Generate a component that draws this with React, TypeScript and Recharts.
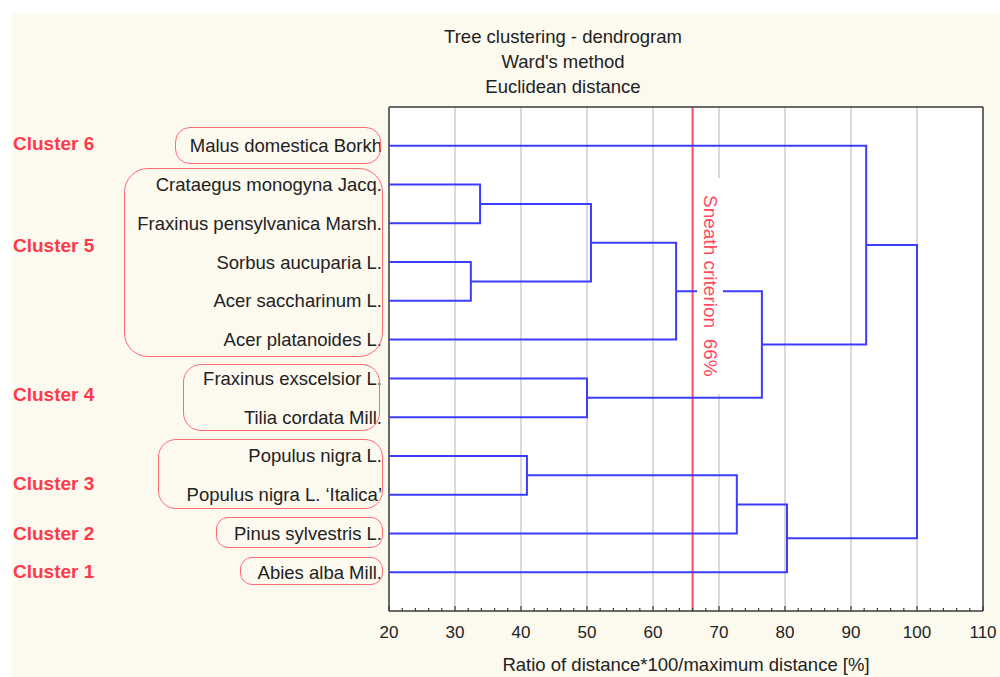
import React from 'react'
import { ScatterChart, Scatter, XAxis, YAxis, ReferenceLine, CartesianGrid } from 'recharts'

// ─── Data ────────────────────────────────────────────────────────────────────

const species = [
  'Malus domestica Borkh',
  'Crataegus monogyna Jacq.',
  'Fraxinus pensylvanica Marsh.',
  'Sorbus aucuparia L.',
  'Acer saccharinum L.',
  'Acer platanoides L.',
  'Fraxinus exscelsior L.',
  'Tilia cordata Mill.',
  'Populus nigra L.',
  'Populus nigra L. \u2018Italica\u2019',
  'Pinus sylvestris L.',
  'Abies alba Mill.',
]

// merges: leaves are 0..11, each merge gets the next id (12, 13, ...)
const mergeLeft = [1, 3, 12, 14, 6, 15, 0, 8, 19, 20, 18]
const mergeRight = [2, 4, 13, 5, 7, 16, 17, 9, 10, 11, 21]
const mergeHeight = [33.8, 32.4, 50.6, 63.5, 50.0, 76.5, 92.3, 40.9, 72.7, 80.3, 100]

const sneathValue = 66
const majorTicks = [20, 30, 40, 50, 60, 70, 80, 90, 100, 110]
const gridTicks = [30, 40, 50, 60, 70, 80, 90, 100]

const clusterLabels = ['Cluster 6', 'Cluster 5', 'Cluster 4', 'Cluster 3', 'Cluster 2', 'Cluster 1']
const clusterLabelY = [144, 246, 395, 484, 534, 572]
const clusterBoxes = [
  { left: 175, top: 127, width: 206, height: 37, r: 15 },
  { left: 124, top: 168, width: 259, height: 189, r: 24 },
  { left: 183, top: 364, width: 197, height: 67, r: 18 },
  { left: 158, top: 439, width: 225, height: 70, r: 18 },
  { left: 216, top: 517, width: 167, height: 31, r: 12 },
  { left: 240, top: 557, width: 143, height: 28, r: 12 },
]

// ─── Layout ──────────────────────────────────────────────────────────────────

const PLOT_LEFT = 389
const PLOT_RIGHT = 983
const PLOT_TOP = 107
const PLOT_BOTTOM = 611

// ─── Derived ─────────────────────────────────────────────────────────────────

const X_MIN = majorTicks[0]
const X_MAX = majorTicks[majorTicks.length - 1]
const rows = species.map((_, i) => i + 1)
const allTicks: number[] = []
for (let v = X_MIN; v <= X_MAX; v += 2) allTicks.push(v)

const nodeY: number[] = rows.slice()
const nodeH: number[] = species.map(() => X_MIN)
const links = mergeHeight.map((h, i) => {
  const a = mergeLeft[i]
  const b = mergeRight[i]
  const pts = [
    { x: nodeH[a], y: nodeY[a] },
    { x: h, y: nodeY[a] },
    { x: h, y: nodeY[b] },
    { x: nodeH[b], y: nodeY[b] },
  ]
  nodeY.push((nodeY[a] + nodeY[b]) / 2)
  nodeH.push(h)
  return pts
})

// pixel x of the Sneath line, for the label box that sits over the plot
const sneathX = PLOT_LEFT + ((sneathValue - X_MIN) / (X_MAX - X_MIN)) * (PLOT_RIGHT - PLOT_LEFT)

const FONT = '"Liberation Sans", Arial, sans-serif'
const FRAME = '#3a3a3a'
const BLUE = '#3c3cff'
const RED = '#ff4a5e'

// ─── Ticks ───────────────────────────────────────────────────────────────────

function BottomTick({ x, y, payload }: any) {
  const major = payload.value % 10 === 0
  return (
    <g>
      <line x1={x} y1={y} x2={x} y2={y - (major ? 5 : 3)} stroke={FRAME} strokeWidth={1.2} />
      {major && (
        <text x={x} y={y + 27} textAnchor="middle" fill="#222" fontSize={17} fontFamily={FONT}>
          {payload.value}
        </text>
      )}
    </g>
  )
}

function TopTick({ x, y, payload }: any) {
  const major = payload.value % 10 === 0
  return <line x1={x} y1={y} x2={x} y2={y + (major ? 5 : 3)} stroke={FRAME} strokeWidth={1.2} />
}

function RightTick({ x, y }: any) {
  return <line x1={x} y1={y} x2={x - 5} y2={y} stroke={FRAME} strokeWidth={1.2} />
}

// ─── App ─────────────────────────────────────────────────────────────────────

export default function App() {
  return (
    <div style={{ position: 'absolute', left: 0, top: 0, width: 1000, height: 677, background: '#fff', fontFamily: FONT }}>
      <div style={{ position: 'absolute', left: 12, top: 14, width: 988, height: 663, background: '#fcf9ef' }} />

      {/* Title */}
      <div style={{ position: 'absolute', left: 363, top: 24, width: 400, textAlign: 'center', fontSize: 18.5, lineHeight: '25px', color: '#222' }}>
        <div>Tree clustering - dendrogram</div>
        <div>Ward's method</div>
        <div>Euclidean distance</div>
      </div>

      <div style={{ position: 'absolute', left: 0, top: 0 }}>
        <ScatterChart
          width={1000}
          height={677}
          margin={{ top: PLOT_TOP - 5, right: 1000 - PLOT_RIGHT - 5, left: 0, bottom: 0 }}
        >
          <CartesianGrid fill="#fff" horizontal={false} vertical={false} xAxisId="b" yAxisId="l" />
          <XAxis
            xAxisId="b"
            dataKey="x"
            type="number"
            domain={[X_MIN, X_MAX]}
            ticks={allTicks}
            interval={0}
            tickSize={0}
            tickMargin={0}
            tickLine={false}
            tick={<BottomTick />}
            axisLine={{ stroke: FRAME, strokeWidth: 1.5 }}
            height={677 - PLOT_BOTTOM}
            label={{
              value: 'Ratio of distance*100/maximum distance [%]',
              position: 'insideBottom',
              offset: 6,
              fill: '#222',
              fontSize: 18.5,
              fontFamily: FONT,
            }}
          />
          <XAxis
            xAxisId="t"
            orientation="top"
            type="number"
            domain={[X_MIN, X_MAX]}
            ticks={allTicks}
            interval={0}
            tickSize={0}
            tickMargin={0}
            tickLine={false}
            tick={<TopTick />}
            axisLine={{ stroke: FRAME, strokeWidth: 1.5 }}
            height={5}
          />
          <YAxis
            yAxisId="l"
            dataKey="y"
            type="number"
            domain={[0, species.length + 1]}
            reversed
            ticks={rows}
            interval={0}
            tickFormatter={(v: number) => species[v - 1] ?? ''}
            tickSize={0}
            tickMargin={7}
            tickLine={false}
            tick={{ fill: '#222', fontSize: 18.5, fontFamily: FONT }}
            axisLine={{ stroke: FRAME, strokeWidth: 1.5 }}
            width={PLOT_LEFT}
          />
          <YAxis
            yAxisId="r"
            orientation="right"
            type="number"
            domain={[0, species.length + 1]}
            reversed
            ticks={rows}
            interval={0}
            tickSize={0}
            tickMargin={0}
            tickLine={false}
            tick={<RightTick />}
            axisLine={{ stroke: FRAME, strokeWidth: 1.5 }}
            width={5}
          />

          {gridTicks.map(v => (
            <ReferenceLine key={`g${v}`} x={v} xAxisId="b" yAxisId="l" stroke="#d6d6d6" strokeWidth={1.8} />
          ))}

          {links.map((pts, i) => (
            <Scatter
              key={`link${i}`}
              data={pts}
              xAxisId="b"
              yAxisId="l"
              line={{ stroke: BLUE, strokeWidth: 2 }}
              shape={() => <g />}
              isAnimationActive={false}
            />
          ))}

          <ReferenceLine x={sneathValue} xAxisId="b" yAxisId="l" stroke={RED} strokeWidth={2} />
        </ScatterChart>
      </div>

      {/* Sneath criterion label, white box over the plot */}
      <div
        style={{
          position: 'absolute',
          left: sneathX + 4,
          top: 178,
          width: 26,
          height: 216,
          background: '#fff',
          display: 'flex',
          alignItems: 'center',
          justifyContent: 'center',
        }}
      >
        <span
          style={{
            writingMode: 'vertical-rl',
            fontSize: 19,
            color: RED,
            whiteSpace: 'pre',
            lineHeight: '26px',
          }}
        >
          {`Sneath criterion  ${sneathValue}%`}
        </span>
      </div>

      {/* Cluster outlines */}
      {clusterBoxes.map((b, i) => (
        <div
          key={`box${i}`}
          style={{
            position: 'absolute',
            left: b.left,
            top: b.top,
            width: b.width,
            height: b.height,
            boxSizing: 'border-box',
            border: '1.5px solid #ff6a78',
            borderRadius: b.r,
            pointerEvents: 'none',
          }}
        />
      ))}

      {/* Cluster names */}
      {clusterLabels.map((c, i) => (
        <div
          key={c}
          style={{
            position: 'absolute',
            left: 13,
            top: clusterLabelY[i] - 12,
            height: 24,
            lineHeight: '24px',
            fontSize: 19,
            fontWeight: 'bold',
            color: '#ff3a4a',
          }}
        >
          {c}
        </div>
      ))}
    </div>
  )
}
